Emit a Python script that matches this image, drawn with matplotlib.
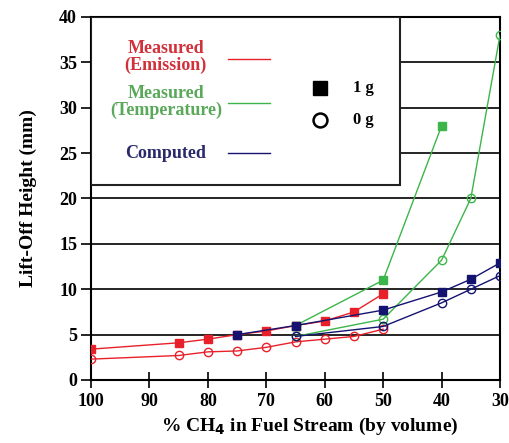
import numpy as np
import matplotlib
matplotlib.use("Agg")
import matplotlib.pyplot as plt
from matplotlib.patches import Rectangle

plt.rcParams['font.family'] = ['Liberation Serif', 'DejaVu Serif']
plt.rcParams['font.weight'] = 'bold'

# measured (emission)
em_x1 = [100, 85, 80, 75, 70, 65, 60, 55, 50]
em_y1 = [3.4, 4.1, 4.5, 5.0, 5.4, 6.0, 6.5, 7.5, 9.5]
em_x0 = [100, 85, 80, 75, 70, 65, 60, 55, 50]
em_y0 = [2.3, 2.7, 3.1, 3.2, 3.6, 4.2, 4.5, 4.8, 5.6]
# measured (temperature)
tp_x1 = [65, 50, 40]
tp_y1 = [6.0, 11.0, 28.0]
tp_x0 = [65, 50, 40, 35, 30]
tp_y0 = [4.8, 6.7, 13.2, 20.0, 38.0]
# computed
cp_x1 = [75, 65, 50, 40, 35, 30]
cp_y1 = [5.0, 6.0, 7.7, 9.7, 11.1, 12.9]
cp_x0 = [65, 50, 40, 35, 30]
cp_y0 = [4.8, 5.9, 8.5, 10.0, 11.5]

xticks = [100, 90, 80, 70, 60, 50, 40, 30]
yticks = [0, 5, 10, 15, 20, 25, 30, 35, 40]

red = '#e8202a'
green = '#3cb64a'
navy = '#141470'

fig = plt.figure(figsize=(5.1, 4.43), dpi=100)
ax = fig.add_axes([91/510, 63/443, 409/510, 363/443])

for y in yticks[1:-1]:
    ax.axhline(y, color='black', lw=1.2, zorder=1)

def series(x, y, c, filled):
    if filled:
        ax.plot(x, y, '-', color=c, lw=1.0, marker='s', ms=6,
                mfc=c, mec=c, zorder=3)
    else:
        ax.plot(x, y, '-', color=c, lw=1.0, marker='o', ms=6,
                mfc='none', mec=c, mew=1.0, zorder=3)

series(em_x0, em_y0, red, False)
series(tp_x0, tp_y0, green, False)
series(cp_x0, cp_y0, navy, False)
series(em_x1, em_y1, red, True)
series(tp_x1, tp_y1, green, True)
series(cp_x1, cp_y1, navy, True)

ax.set_xlim(100, 30)
ax.set_ylim(0, 40)
ax.set_xticks(xticks)
ax.set_yticks(yticks)
ax.tick_params(axis='x', direction='inout', length=12, width=1.2, labelsize=13, pad=3)
ax.tick_params(axis='y', direction='out', length=7, width=1.2, labelsize=13, pad=3)
for s in ax.spines.values():
    s.set_linewidth(1.5)
ax.set_xlabel('% CH$_\\mathbf{4}$ in Fuel Stream (by volume)', fontsize=14,
              fontweight='bold', labelpad=4)
ax.xaxis.set_label_coords(0.535, -0.1)
ax.set_ylabel('Lift-Off Height (mm)', fontsize=14, fontweight='bold', labelpad=16)

# legend box
ax.add_patch(Rectangle((0, 0.537), 0.755, 0.463, transform=ax.transAxes,
                       facecolor='white', edgecolor='#222222', lw=1.5, zorder=5))
tk = dict(transform=ax.transAxes, ha='center', va='center', fontsize=13,
          fontweight='bold', zorder=6, linespacing=0.95)
ax.text(0.183, 0.89, 'Measured\n(Emission)', color='#d2303a', **tk)
ax.text(0.183, 0.766, 'Measured\n(Temperature)', color='#5aa85a', **tk)
ax.text(0.183, 0.625, 'Computed', color='#2a2a6a', **tk)
for yy, c in [(0.885, red), (0.762, green), (0.625, navy)]:
    ax.plot([0.335, 0.438], [yy, yy], color=c, lw=1.0, transform=ax.transAxes, zorder=6)
ax.plot([0.56], [0.804], 's', color='black', ms=10, transform=ax.transAxes, zorder=6)
ax.plot([0.56], [0.716], 'o', mfc='white', mec='black', mew=1.8, ms=10,
        transform=ax.transAxes, zorder=6)
ax.text(0.665, 0.804, '1 g', transform=ax.transAxes, ha='center', va='center',
        fontsize=12, fontweight='bold', zorder=6)
ax.text(0.665, 0.716, '0 g', transform=ax.transAxes, ha='center', va='center',
        fontsize=12, fontweight='bold', zorder=6)

fig.savefig('out.png', dpi=100)
